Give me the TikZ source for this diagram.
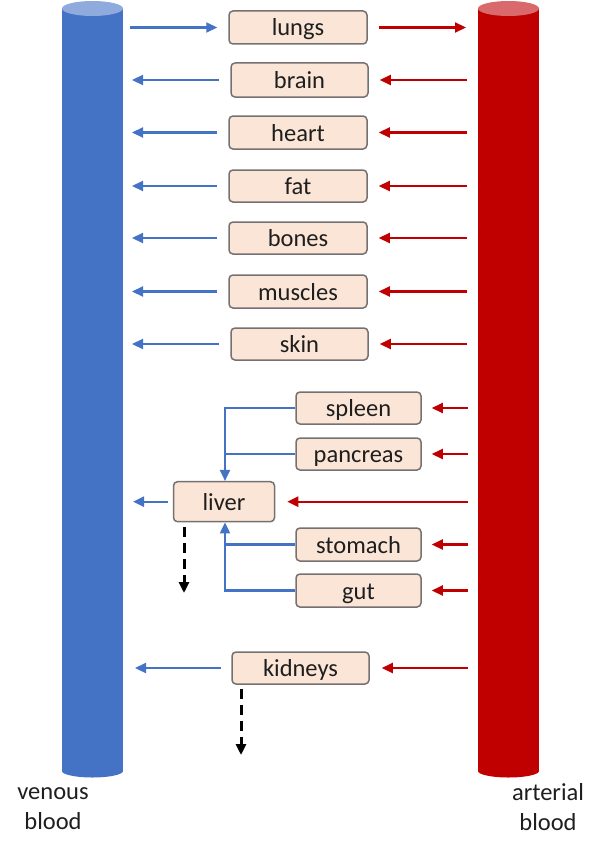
\documentclass[tikz,border=0pt]{standalone}
\usepackage{fontspec}
\setmainfont{Carlito}
\usetikzlibrary{arrows.meta}
\definecolor{vblue}{RGB}{68,114,196}
\definecolor{vbluel}{RGB}{143,170,220}
\definecolor{ared}{RGB}{192,0,0}
\definecolor{aredl}{RGB}{217,105,107}
\definecolor{boxfill}{RGB}{251,229,214}
\definecolor{boxline}{RGB}{118,113,113}
\definecolor{txt}{RGB}{30,30,30}
\tikzset{
  organ/.style={draw=boxline, line width=1.5pt, fill=boxfill, rounded corners=4pt,
    font=\fontsize{24.5}{28}\selectfont, text=txt, text height=19pt, text depth=2pt,
    inner sep=0pt},
  barr/.style={draw=vblue, line width=2.2pt, -{Triangle[length=11pt,width=10pt]}},
  rarr/.style={draw=ared, line width=2.2pt, -{Triangle[length=11pt,width=10pt]}},
  bline/.style={draw=vblue, line width=2.2pt},
  darr/.style={draw=black, line width=3pt, dash pattern=on 10pt off 6pt, -{Triangle[length=11pt,width=10pt]}},
  lbl/.style={font=\fontsize{24.5}{30}\selectfont, text=txt, align=center},
}
\begin{document}
\begin{tikzpicture}[x=1pt,y=-1pt]
\useasboundingbox (0,0) rectangle (601,851);
% cylinders
\fill[vblue] (62,8.5) rectangle (123,771);
\fill[vblue] (92.5,771) ellipse [x radius=30.5, y radius=6.5];
\fill[vbluel] (92.5,8.5) ellipse [x radius=30.5, y radius=7.5];
\fill[ared] (478,8.5) rectangle (539,771);
\fill[ared] (508.5,771) ellipse [x radius=30.5, y radius=6.5];
\fill[aredl] (508.5,8.5) ellipse [x radius=30.5, y radius=7.5];
% labels
\node[lbl] (ven) at (53,809) {venous\\blood};
\node[lbl] (art) at (548,807) {arterial\\blood};
% organs
\node[organ, minimum width=138pt, minimum height=33pt] (lungs) at (298,27.5) {lungs};
\node[organ, minimum width=137pt, minimum height=34pt] (brain) at (299.5,80) {brain};
\node[organ, minimum width=138pt, minimum height=33pt] (heart) at (298,132.5) {heart};
\node[organ, minimum width=138pt, minimum height=32pt] (fat) at (298,186) {fat};
\node[organ, minimum width=138pt, minimum height=32pt] (bones) at (298,238) {bones};
\node[organ, minimum width=138pt, minimum height=33pt] (muscles) at (298,291.5) {muscles};
\node[organ, minimum width=137pt, minimum height=32pt] (skin) at (299.5,344) {skin};
\node[organ, minimum width=125pt, minimum height=32pt] (spleen) at (358.5,408) {spleen};
\node[organ, minimum width=125pt, minimum height=32pt] (pancreas) at (358.5,454) {pancreas};
\node[organ, minimum width=101pt, minimum height=40pt] (liver) at (224,501.7) {liver};
\node[organ, minimum width=125pt, minimum height=33pt] (stomach) at (358.5,544.5) {stomach};
\node[organ, minimum width=125pt, minimum height=33pt] (gut) at (358.5,590.5) {gut};
\node[organ, minimum width=137pt, minimum height=32pt] (kidneys) at (300.5,668) {kidneys};
% cylinder-side coordinates
\coordinate (vLu) at (130,27.5);
\coordinate (aLu) at (466,27.5);
\foreach \n/\y in {brain/80,heart/132.5,fat/186,bones/238,muscles/291.5,skin/344}{
  \coordinate (v\n) at (132,\y);
  \coordinate (a\n) at (467,\y);
}
\coordinate (vliver) at (133,501.7);
\coordinate (aliver) at (468,501.7);
\coordinate (aspleen) at (468,408);
\coordinate (apancreas) at (468,454);
\coordinate (astomach) at (468,544.5);
\coordinate (agut) at (468,590.5);
\coordinate (vkidneys) at (135,668);
\coordinate (akidneys) at (468,668);
% lungs
\draw[barr, shorten >=11pt] (vLu) -- (lungs.west);
\draw[rarr, shorten <=11pt] (lungs.east) -- (aLu);
% other organs
\foreach \n in {brain,heart,fat,bones,muscles,skin}{
  \draw[barr, shorten <=11pt] (\n.west) -- (v\n);
  \draw[rarr, shorten >=11pt] (a\n) -- (\n.east);
}
\foreach \n in {spleen,pancreas,stomach,gut}{
  \draw[rarr, shorten >=10pt] (a\n) -- (\n.east);
}
\draw[rarr, shorten >=12pt] (aliver) -- (liver.east);
\draw[barr, shorten <=5pt] (liver.west) -- (vliver);
\draw[barr, shorten <=10pt] (kidneys.west) -- (vkidneys);
\draw[rarr, shorten >=12pt] (akidneys) -- (kidneys.east);
% portal connections
\coordinate (px) at (225,0);
\draw[bline] (pancreas.west) -- (pancreas.west -| px);
\draw[barr] (spleen.west) -- (spleen.west -| px) -- (px |- liver.north);
\draw[bline] (stomach.west) -- (stomach.west -| px);
\draw[barr] (gut.west) -- (gut.west -| px) -- (px |- liver.south);
% excretion
\coordinate (lx) at (184,593);
\draw[darr, shorten <=5pt] (lx |- liver.south) -- (lx);
\coordinate (kx) at (241,755);
\draw[darr, shorten <=4pt] (kx |- kidneys.south) -- (kx);
\end{tikzpicture}
\end{document}
